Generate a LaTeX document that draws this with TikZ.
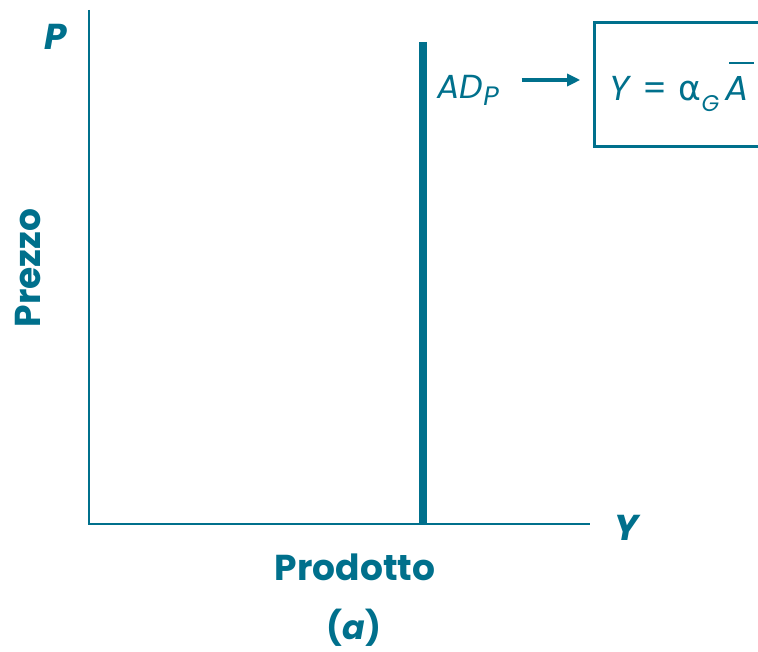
\documentclass[tikz,border=0pt]{standalone}
\usepackage{fontspec}
\setmainfont{Poppins}
\newfontfamily\greekfont{DejaVu Sans}
\usetikzlibrary{arrows.meta,positioning}
\definecolor{axisteal}{RGB}{0,112,140}
\newcommand{\barA}{\makebox[0pt][l]{\hspace{3pt}\raisebox{27.5pt}{\rule{18.5pt}{1.6pt}}}{\itshape A}}

\begin{document}
\begin{tikzpicture}[x=0.75pt, y=-0.75pt,
    every node/.style={text=axisteal},
    axisline/.style={draw=axisteal, line width=2.2pt},
    adline/.style={draw=axisteal, line width=6pt},
    axislabel/.style={font=\fontsize{27}{27}\selectfont\bfseries\itshape},
    axisname/.style={font=\fontsize{27}{27}\selectfont\bfseries},
    formbox/.style={draw=axisteal, line width=2.2pt, inner ysep=0pt, inner xsep=11pt,
        text height=59pt, text depth=34pt, text width=150pt, align=left,
        font=\fontsize{26}{26}\selectfont},
    flowarrow/.style={draw=axisteal, line width=3.5pt, -{Triangle[length=10pt, width=9pt]}}]
    \clip (0,0) rectangle (758,652);
    % axes
    \coordinate (origin) at (89,524);
    \coordinate (ytop) at (89,10);
    \coordinate (xend) at (590,524);
    \draw[axisline] (ytop) -- (origin) -- (xend);
    \node[axislabel] (plabel) at (56,37) {P};
    \node[axislabel] (ylabel) at (627,528) {Y};
    \node[axisname, rotate=90] (prezzo) at (28,268) {Prezzo};
    \node[axisname] (prodotto) at (355,567) {Prodotto};
    \node[axisname, font=\fontsize{25}{25}\selectfont\bfseries, inner sep=1pt] (panel) at (354,628) {(\textit{a})};
    % vertical AD curve
    \coordinate (adtop) at (423,42);
    \draw[adline] (adtop) -- (adtop |- origin);
    \node[anchor=base west, inner sep=0pt, font=\fontsize{25}{25}\selectfont\itshape] (adlabel) at (437,99)
        {AD\raisebox{-0.2em}{\fontsize{20}{20}\selectfont P}};
    % box with the multiplier
    \node[formbox, anchor=base west] (formula) at (593,101)
        {{\itshape Y\kern1pt} = {\greekfont α}\raisebox{-0.3em}{\fontsize{17}{17}\selectfont\itshape G}\,\barA};
    \coordinate (arrowrow) at (0,80);
    \draw[flowarrow, shorten <=17pt, shorten >=9.5pt] (adlabel.east |- arrowrow) -- (formula.west |- arrowrow);
\end{tikzpicture}
\end{document}
